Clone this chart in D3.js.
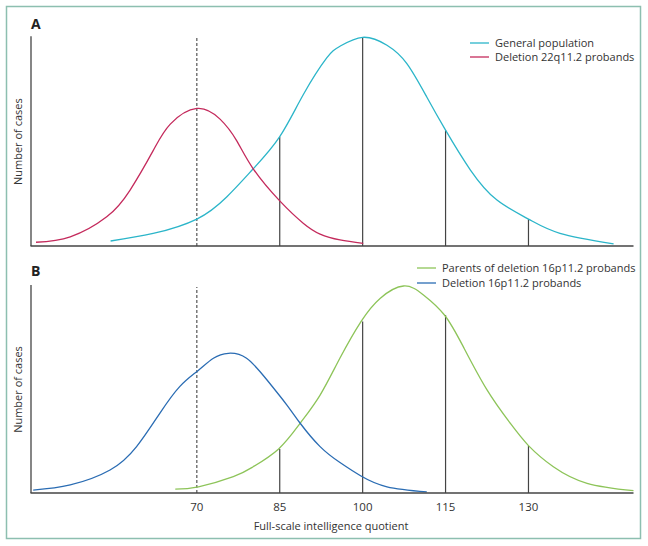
<!DOCTYPE html>
<html>
<head>
<meta charset="utf-8">
<script src="https://cdn.jsdelivr.net/npm/d3@7"></script>
<style>
  body { margin: 0; background: #fff; }
  text { font-family: "Open Sans", "Noto Sans", sans-serif; fill: #333; }
</style>
</head>
<body>
<svg id="chart" width="648" height="546"></svg>
<script>
// IQ values and relative number of cases (peak of the reference curve = 100)

// panel A
var generalIQ    = [54.4, 62.1, 70, 75.4, 80.2, 85, 89.3, 93.5, 95.9, 100, 104.4, 108, 111.6, 115, 119.5, 124.3, 130, 135.7, 145.4];
var generalCases = [2.4, 6, 12.9, 23.5, 37, 52.4, 72.7, 90.1, 95.7, 100, 96.2, 87.4, 71.4, 55.5, 36.4, 22, 12.9, 6.1, 1];

var del22IQ    = [40.9, 47.1, 53.7, 57.9, 62.1, 65.2, 70, 74.2, 77.2, 80.2, 85, 89.3, 92.3, 95.9, 100.1];
var del22Cases = [1.8, 4.4, 14, 26.7, 45.7, 58.4, 65.9, 60.8, 50.5, 37, 21.6, 10.8, 5.7, 2.9, 1.3];

// panel B
var parentsIQ    = [66.1, 70.3, 76.6, 80.2, 84.8, 88.7, 92.3, 95.9, 99.7, 103.2, 107.4, 111, 114.8, 118.2, 122.5, 126.7, 130, 134.5, 140.6, 149];
var parentsCases = [1.9, 3, 7.9, 12.7, 21.3, 33.7, 47.3, 65.2, 82.8, 94.1, 100, 95.7, 86, 70.7, 49.8, 33.7, 22.9, 12.7, 4.7, 1.1];

var del16IQ    = [40.4, 47.1, 54.3, 59.1, 63.3, 66.9, 70.2, 73, 75.7, 79, 82.7, 86.3, 88.7, 92.3, 95.9, 99.7, 104.4, 111.6];
var del16Cases = [1.4, 3.9, 11.1, 22.4, 38.5, 51.4, 59.1, 65.1, 67.5, 65.1, 54.6, 42.5, 33.7, 22.4, 14.7, 8.2, 3, 0.5];

// mean and standard deviation marks of the general population
var sdMarks = [85, 100, 115, 130];
var sdHeightsA = [52.4, 100, 55.5, 12.9];
var sdHeightsB = [21.3, 82.8, 86, 22.9];
var cutoffIQ = 70;

var tickValues = [70, 85, 100, 115, 130];

var svg = d3.select("#chart");

svg.append("rect")
    .attr("x", 6.5).attr("y", 6.5)
    .attr("width", 634).attr("height", 532)
    .attr("fill", "none")
    .attr("stroke", "#8dbfb0")
    .attr("stroke-width", 1.5);

var x = d3.scaleLinear().domain([40, 149]).range([31, 633.5]);

function drawPanel(opt)
{
    var y = d3.scaleLinear().domain([0, 100]).range([opt.bottom, opt.top]);
    var g = svg.append("g");

    g.append("text")
        .attr("x", 31).attr("y", opt.labelY)
        .style("font-weight", "bold")
        .style("font-size", "14px")
        .style("fill", "#222")
        .text(opt.label);

    // dashed cut-off at IQ 70
    g.append("line")
        .attr("x1", x(cutoffIQ)).attr("x2", x(cutoffIQ))
        .attr("y1", y(0)).attr("y2", opt.dashTop)
        .attr("stroke", "#555")
        .attr("stroke-width", 1.2)
        .attr("stroke-dasharray", "3,2");

    g.selectAll(".sd")
        .data(sdMarks)
        .enter().append("line")
        .attr("x1", d => x(d)).attr("x2", d => x(d))
        .attr("y1", y(0))
        .attr("y2", (d, i) => y(opt.sdHeights[i]))
        .attr("stroke", "#444")
        .attr("stroke-width", 1.2);

    var line = d3.line()
        .x(d => x(d[0]))
        .y(d => y(d[1]))
        .curve(d3.curveNatural);

    opt.series.forEach(function (s) {
        g.append("path")
            .datum(d3.zip(s.iq, s.cases))
            .attr("d", line)
            .attr("fill", "none")
            .attr("stroke", s.color)
            .attr("stroke-width", 1.3);
    });

    // axes
    g.append("line")
        .attr("x1", 31).attr("x2", 31)
        .attr("y1", opt.top - 1).attr("y2", y(0))
        .attr("stroke", "#444").attr("stroke-width", 1.3);
    g.append("line")
        .attr("x1", 30.5).attr("x2", x.range()[1])
        .attr("y1", y(0)).attr("y2", y(0))
        .attr("stroke", "#444").attr("stroke-width", 1.3);

    g.append("text")
        .attr("transform", "translate(22," + (opt.top + opt.bottom) / 2 + ") rotate(-90)")
        .attr("text-anchor", "middle")
        .style("font-size", "11px")
        .text("Number of cases");

    // legend
    var leg = g.selectAll(".leg")
        .data(opt.series.filter(s => s.legendY))
        .enter().append("g");
    leg.append("line")
        .attr("x1", s => s.legendX - 25).attr("x2", s => s.legendX - 6)
        .attr("y1", s => s.legendY).attr("y2", s => s.legendY)
        .attr("stroke", s => s.color)
        .attr("stroke-width", 1.3);
    leg.append("text")
        .attr("x", s => s.legendX)
        .attr("y", s => s.legendY + 4)
        .style("font-size", "11px")
        .text(s => s.name);

    return y;
}

drawPanel({
    label: "A", labelY: 29,
    top: 37.3, bottom: 246, dashTop: 38,
    sdHeights: sdHeightsA,
    series: [
        { name: "General population", iq: generalIQ, cases: generalCases, color: "#2bb5c9", legendX: 495, legendY: 43 },
        { name: "Deletion 22q11.2 probands", iq: del22IQ, cases: del22Cases, color: "#c42a5c", legendX: 495, legendY: 57 }
    ]
});

drawPanel({
    label: "B", labelY: 276,
    top: 286, bottom: 493, dashTop: 287,
    sdHeights: sdHeightsB,
    series: [
        { name: "Parents of deletion 16p11.2 probands", iq: parentsIQ, cases: parentsCases, color: "#8dc459", legendX: 442, legendY: 268 },
        { name: "Deletion 16p11.2 probands", iq: del16IQ, cases: del16Cases, color: "#2a6cb3", legendX: 442, legendY: 283 }
    ]
});

// shared x tick labels
svg.selectAll(".tick")
    .data(tickValues)
    .enter().append("text")
    .attr("x", d => x(d))
    .attr("y", 511)
    .attr("text-anchor", "middle")
    .style("font-size", "11.5px")
    .text(d => d);

svg.append("text")
    .attr("x", 331).attr("y", 530)
    .attr("text-anchor", "middle")
    .style("font-size", "11px")
    .text("Full-scale intelligence quotient");
</script>
</body>
</html>
